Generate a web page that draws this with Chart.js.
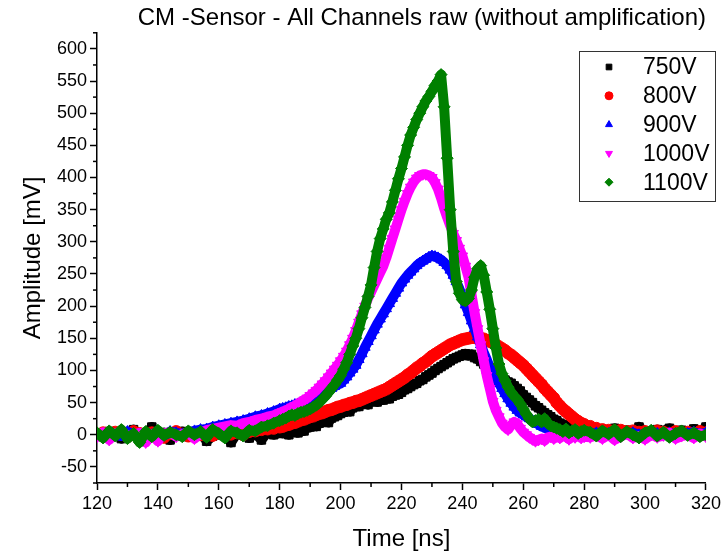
<!DOCTYPE html>
<html>
<head>
<meta charset="utf-8">
<script src="https://cdn.jsdelivr.net/npm/chart.js@4.4.1/dist/chart.umd.min.js"></script>
<style>
html,body{margin:0;padding:0;background:#fff;}
#wrap{width:724px;height:555px;}
</style>
</head>
<body>
<div id="wrap"><canvas id="c" width="724" height="555"></canvas></div>
<script>
const chartTitle = 'CM -Sensor - All Channels raw (without amplification)';
const xAxisTitle = 'Time [ns]';
const yAxisTitle = 'Amplitude [mV]';
const seriesLabels = ['750V', '800V', '900V', '1000V', '1100V'];
const xTickValues = [120,140,160,180,200,220,240,260,280,300,320];
const yTickValues = [-50,0,50,100,150,200,250,300,350,400,450,500,550,600];

const times = [
120,122,124,126,128,130,132,134,136,138,140,142,144,146,148,150,152,154,156,158,160,162,164,166,168,170,172,174,176,178,180,
181,182,183,184,185,186,187,188,189,190,191,192,193,194,195,196,197,198,199,200,
201,202,203,204,205,206,207,208,209,210,211,212,213,214,215,216,217,218,219,220,
221,222,223,224,225,226,227,228,229,230,231,232,233,234,235,236,237,238,239,240,
241,242,243,244,245,246,247,248,249,250,251,252,253,254,255,256,257,258,259,260,
261,262,263,264,265,266,267,268,269,270,271,272,273,274,275,276,277,278,279,280,
282,284,286,288,290,292,294,296,298,300,302,304,306,308,310,312,314,316,318,320];

const v750 = [
2,-3,5,0,-6,3,8,-2,1,12,-4,3,-8,2,5,-3,0,6,-10,-2,4,1,-12,3,0,-5,2,-8,4,0,3,
2,5,0,4,7,3,9,6,11,12,
15,13,18,20,22,19,26,28,30,33,
35,38,36,42,45,44,48,50,47,52,
53,51,55,54,57,56,60,62,63,66,
70,72,75,78,80,84,86,90,93,96,
100,103,106,109,112,115,118,120,122,124,
126,123,125,120,118,114,110,105,102,98,
95,90,88,85,82,80,76,72,68,62,
58,54,50,45,42,38,34,31,28,24,
22,18,16,14,12,10,11,8,9,7,
5,8,3,6,10,4,7,2,12,5,3,8,6,10,4,7,3,9,5,12];

const v800 = [
0,3,-2,4,1,-3,5,2,-1,3,0,-4,2,5,1,-2,3,0,4,-1,2,5,1,3,0,5,6,8,9,10,12,
13,15,16,18,19,21,23,24,26,28,
29,31,33,34,36,38,39,41,43,44,
46,47,49,50,52,53,55,57,59,61,
63,65,67,69,71,74,77,80,83,86,
89,93,96,100,104,107,111,114,118,122,
125,128,131,134,137,140,142,144,146,148,
149,150,151,151,150,150,149,147,145,143,
140,137,134,131,127,124,120,116,112,108,
103,98,93,88,83,78,72,67,62,57,
50,45,40,36,32,28,24,21,18,16,
13,10,8,7,6,7,5,6,4,5,3,6,4,2,5,3,4,2,5,3];

const v900 = [
2,-3,4,0,-2,5,1,-4,3,0,2,-1,5,3,1,4,6,8,9,12,14,16,18,20,22,25,28,30,33,36,40,
41,42,44,45,47,48,50,52,54,56,
58,60,62,64,66,69,72,75,78,80,
85,90,96,102,108,117,126,136,145,154,
163,172,180,188,196,204,212,220,228,236,
242,248,253,258,263,267,270,273,276,278,
277,275,272,268,263,256,248,238,227,215,
202,190,177,165,152,140,128,117,105,94,
88,80,72,64,56,49,43,38,34,31,
28,25,22,19,16,13,11,9,7,6,
4,3,5,2,4,1,3,0,2,4,
1,3,0,2,4,-1,2,3,0,1,4,2,-1,3,1,0,2,4,1,3];

const v1000 = [
-3,4,-8,2,5,-2,0,3,-12,1,-10,2,4,-3,1,3,-6,2,7,9,11,13,15,14,18,20,23,25,28,30,34,
36,38,40,43,45,48,51,54,57,61,
65,69,74,79,84,90,96,102,108,115,
122,130,140,150,162,175,188,200,212,222,
232,242,252,262,275,290,305,320,335,350,
363,375,385,393,399,403,405,405,403,400,
392,382,368,352,338,325,313,302,290,278,
262,245,218,190,165,140,115,92,72,52,
38,28,18,12,8,15,20,17,10,4,
0,-4,-7,-10,-8,-6,-9,-4,-3,-6,
-2,-5,0,-3,-7,-2,-4,1,-5,-3,
-4,-1,-6,0,-8,-3,2,-5,-2,-7,0,-4,-1,3,-6,-2,0,-5,2,-3];

const v1100 = [
3,-5,6,-2,8,-6,2,-12,5,-3,7,-1,4,0,-3,6,0,5,-4,8,2,-5,6,3,-2,7,6,12,14,18,22,
24,26,29,31,30,33,35,36,38,40,
43,46,50,55,60,66,72,78,85,92,
102,112,125,138,150,165,182,198,215,233,
260,285,305,320,335,345,362,380,398,414,
432,450,466,478,490,500,510,519,526,534,
543,550,560,510,430,350,285,238,220,210,
208,212,225,245,258,263,248,222,195,165,
135,110,95,84,74,66,60,55,48,40,
32,25,20,22,24,20,25,18,14,12,
10,8,5,9,3,6,8,2,5,7,
4,-2,6,1,8,-3,5,0,-5,3,7,-2,4,-4,2,6,-1,3,-3,0];

const seriesValues = [v750, v800, v900, v1000, v1100];
const seriesColors = ['#000000', '#ff0000', '#0000ff', '#ff00ff', '#008000'];
const seriesStyles = ['rect', 'circle', 'triangle', 'triangle', 'rectRot'];
const seriesRotations = [0, 0, 0, 180, 0];

const FONT = "'Liberation Sans', Arial, sans-serif";
Chart.defaults.font.family = FONT;
Chart.defaults.color = '#000';

const datasets = seriesLabels.map((lab, k) => ({
  label: lab,
  data: times.map((t, i) => ({x: t, y: seriesValues[k][i]})),
  showLine: true,
  borderColor: seriesColors[k],
  backgroundColor: seriesColors[k],
  borderWidth: 10,
  borderJoinStyle: 'round',
  borderCapStyle: 'round',
  tension: 0,
  pointStyle: seriesStyles[k],
  rotation: seriesRotations[k],
  pointRadius: 6,
  pointBackgroundColor: seriesColors[k],
  pointBorderColor: seriesColors[k],
  pointBorderWidth: 1,
  order: seriesLabels.length - k
}));

const minorTicks = {
  id: 'minorTicks',
  afterDraw(chart) {
    const {ctx, chartArea: a, scales: {x, y}} = chart;
    ctx.save();
    ctx.strokeStyle = '#000';
    ctx.lineWidth = 1.5;
    const xm = [];
    for (let i = 0; i < xTickValues.length - 1; i++) xm.push((xTickValues[i] + xTickValues[i + 1]) / 2);
    xm.forEach(v => {
      const px = x.getPixelForValue(v);
      ctx.beginPath(); ctx.moveTo(px, a.bottom); ctx.lineTo(px, a.bottom + 4); ctx.stroke();
    });
    const ym = [y.min, y.max];
    for (let i = 0; i < yTickValues.length - 1; i++) ym.push((yTickValues[i] + yTickValues[i + 1]) / 2);
    ym.forEach(v => {
      const py = y.getPixelForValue(v);
      ctx.beginPath(); ctx.moveTo(a.left, py); ctx.lineTo(a.left - 4, py); ctx.stroke();
    });
    ctx.restore();
  }
};

const legendBox = {
  id: 'legendBox',
  afterDraw(chart) {
    const {ctx} = chart;
    const left = 579, top = 51, w = 136, h = 150;
    ctx.save();
    ctx.fillStyle = '#fff';
    ctx.fillRect(left, top, w, h);
    ctx.strokeStyle = '#333';
    ctx.lineWidth = 1;
    ctx.strokeRect(left + 0.5, top + 0.5, w, h);
    ctx.font = '23px ' + FONT;
    ctx.textBaseline = 'middle';
    ctx.textAlign = 'left';
    chart.data.datasets.forEach((ds, i) => {
      const cy = top + 16 + i * 28.8;
      ctx.fillStyle = ds.pointBackgroundColor;
      ctx.strokeStyle = ds.pointBorderColor;
      Chart.helpers.drawPoint(ctx, {pointStyle: ds.pointStyle, rotation: ds.rotation, radius: 4, borderWidth: 1}, left + 30, cy);
      ctx.fillStyle = '#000';
      ctx.fillText(ds.label, left + 64, cy + 1);
    });
    ctx.restore();
  }
};

new Chart(document.getElementById('c'), {
  type: 'scatter',
  data: {datasets},
  options: {
    responsive: false,
    animation: false,
    layout: {padding: {top: 0, right: 16, bottom: 0, left: 0}},
    plugins: {
      legend: {display: false},
      tooltip: {enabled: false},
      title: {
        display: true, text: chartTitle, fullSize: false, align: 'end',
        color: '#000', font: {size: 24, weight: 'normal'}, padding: {top: 4, bottom: 0}
      }
    },
    scales: {
      x: {
        type: 'linear', min: 120, max: 320,
        afterBuildTicks: s => { s.ticks = xTickValues.map(v => ({value: v})); },
        afterFit: s => { s.height = 72; },
        ticks: {font: {size: 18}, color: '#000', maxRotation: 0, autoSkip: false, padding: 3},
        grid: {drawOnChartArea: false, drawTicks: true, tickLength: 7, color: '#000', tickWidth: 1.5},
        border: {display: true, color: '#000', width: 1.5},
        title: {display: true, text: xAxisTitle, color: '#000', font: {size: 24}, padding: {top: 0, bottom: 1}}
      },
      y: {
        type: 'linear', min: -75, max: 625,
        afterBuildTicks: s => { s.ticks = yTickValues.map(v => ({value: v})); },
        afterFit: s => { s.width = 97; },
        ticks: {font: {size: 18}, color: '#000', autoSkip: false, padding: 3},
        grid: {drawOnChartArea: false, drawTicks: true, tickLength: 7, color: '#000', tickWidth: 1.5},
        border: {display: true, color: '#000', width: 1.5},
        title: {display: true, text: yAxisTitle, color: '#000', font: {size: 24}, padding: {top: 19, bottom: 0}}
      }
    }
  },
  plugins: [minorTicks, legendBox]
});
</script>
</body>
</html>
